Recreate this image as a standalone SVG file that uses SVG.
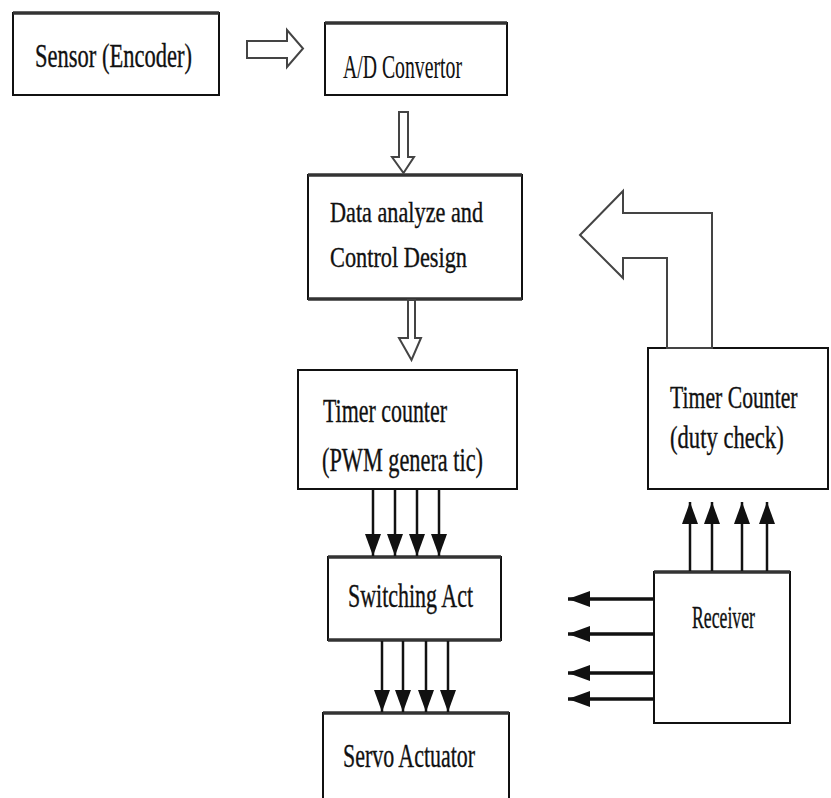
<svg xmlns="http://www.w3.org/2000/svg" width="831" height="798" viewBox="0 0 831 798">
<defs>
<style>
.box{fill:#fff;stroke:#111;stroke-width:2}
.top{stroke:#333;stroke-width:3.5}
.t{font-family:"Liberation Serif","Times New Roman",serif;fill:#111;stroke:#111;stroke-width:0.35}
.hollow{fill:#fff;stroke:#444;stroke-width:2;stroke-linejoin:miter}
.sig{stroke:#111;stroke-width:2.5;fill:none}
.sigb{stroke:#111;stroke-width:3.5;fill:none}
</style>
<marker id="ah" markerUnits="userSpaceOnUse" markerWidth="22" markerHeight="16" refX="22" refY="8" viewBox="0 0 22 16" orient="auto">
<path d="M0,0 L22,8 L0,16 Z" fill="#111"/>
</marker>
</defs>
<rect width="831" height="798" fill="#fff"/>

<g id="sensor">
<rect class="box" x="13" y="13" width="206" height="82"/>
<line class="top" x1="13" y1="13" x2="219" y2="13"/>
<text class="t" x="35" y="67" font-size="33" textLength="157" lengthAdjust="spacingAndGlyphs">Sensor (Encoder)</text>
</g>

<g id="adc">
<rect class="box" x="325" y="23" width="182" height="72"/>
<line class="top" x1="325" y1="23" x2="507" y2="23"/>
<text class="t" x="343" y="78" font-size="33" textLength="119" lengthAdjust="spacingAndGlyphs" style="stroke-width:0.1">A/D  Convertor</text>
</g>

<g id="data">
<rect class="box" x="308" y="175" width="214" height="124"/>
<line class="top" x1="308" y1="175" x2="522" y2="175"/>
<line class="top" x1="308" y1="299" x2="522" y2="299"/>
<text class="t" x="330" y="222" font-size="30" textLength="153" lengthAdjust="spacingAndGlyphs">Data analyze and</text>
<text class="t" x="330" y="267" font-size="30" textLength="137" lengthAdjust="spacingAndGlyphs">Control Design</text>
</g>

<g id="pwm">
<rect class="box" x="298" y="370" width="219" height="119"/>
<text class="t" x="323" y="422" font-size="34" textLength="124" lengthAdjust="spacingAndGlyphs">Timer counter</text>
<text class="t" x="322" y="471" font-size="34" textLength="161" lengthAdjust="spacingAndGlyphs">(PWM genera tic)</text>
</g>

<g id="duty">
<rect class="box" x="648" y="348" width="180" height="141"/>
<text class="t" transform="translate(670,408) scale(0.7,1)" x="0" y="0" font-size="31">Timer Counter</text>
<text class="t" transform="translate(670,448) scale(0.73,1)" x="0" y="0" font-size="31">(duty check)</text>
</g>

<g id="switching">
<rect class="box" x="328" y="557" width="173" height="83"/>
<line class="top" x1="328" y1="557" x2="501" y2="557"/>
<line class="top" x1="328" y1="640" x2="501" y2="640"/>
<text class="t" x="348" y="607" font-size="33" textLength="125" lengthAdjust="spacingAndGlyphs">Switching Act</text>
</g>

<g id="servo">
<rect class="box" x="323" y="713" width="186" height="100"/>
<line class="top" x1="323" y1="713" x2="509" y2="713"/>
<text class="t" x="343" y="767" font-size="34" textLength="132" lengthAdjust="spacingAndGlyphs">Servo Actuator</text>
</g>

<g id="receiver">
<rect class="box" x="654" y="572" width="136" height="151"/>
<line class="top" x1="654" y1="572" x2="790" y2="572"/>
<text class="t" x="692" y="628" font-size="32" textLength="63" lengthAdjust="spacingAndGlyphs">Receiver</text>
</g>

<g id="connectors">
<polygon class="hollow" points="247,41 287,41 287,30 303,48.5 287,67 287,58 247,58"/>
<polygon class="hollow" points="399,112 408,112 408,157 414,157 403.5,173 392,157 399,157"/>
<polygon class="hollow" points="408,300 415,300 415,338 421,338 411.5,360 399,338 408,338"/>
<polygon class="hollow" points="580,235 623,191 623,213 712,213 712,348 667,348 667,258 623,258 623,278"/>

<line class="sig" x1="373" y1="490" x2="373" y2="556" marker-end="url(#ah)"/>
<line class="sig" x1="395" y1="490" x2="395" y2="556" marker-end="url(#ah)"/>
<line class="sig" x1="417" y1="490" x2="417" y2="556" marker-end="url(#ah)"/>
<line class="sig" x1="439" y1="490" x2="439" y2="556" marker-end="url(#ah)"/>

<line class="sig" x1="382" y1="641" x2="382" y2="712" marker-end="url(#ah)"/>
<line class="sig" x1="403" y1="641" x2="403" y2="712" marker-end="url(#ah)"/>
<line class="sig" x1="426" y1="641" x2="426" y2="712" marker-end="url(#ah)"/>
<line class="sig" x1="448" y1="641" x2="448" y2="712" marker-end="url(#ah)"/>

<line class="sig" x1="690" y1="571" x2="690" y2="502" marker-end="url(#ah)"/>
<line class="sig" x1="712" y1="571" x2="712" y2="502" marker-end="url(#ah)"/>
<line class="sig" x1="742" y1="571" x2="742" y2="502" marker-end="url(#ah)"/>
<line class="sig" x1="767" y1="571" x2="767" y2="502" marker-end="url(#ah)"/>

<line class="sigb" x1="653" y1="599" x2="568" y2="599" marker-end="url(#ah)"/>
<line class="sigb" x1="653" y1="634" x2="568" y2="634" marker-end="url(#ah)"/>
<line class="sigb" x1="653" y1="673" x2="568" y2="673" marker-end="url(#ah)"/>
<line class="sigb" x1="653" y1="699" x2="568" y2="699" marker-end="url(#ah)"/>
</g>
</svg>
